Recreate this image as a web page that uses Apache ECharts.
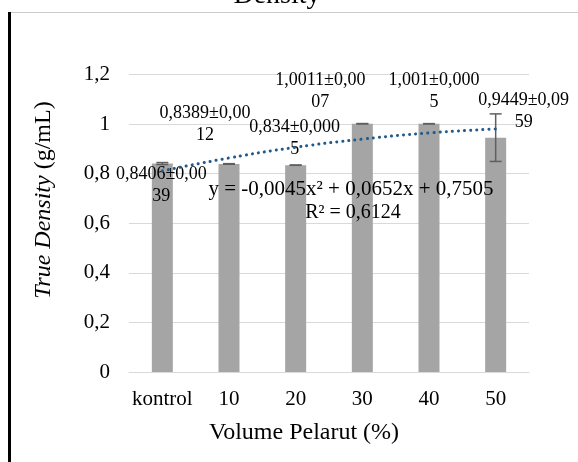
<!DOCTYPE html>
<html>
<head>
<meta charset="utf-8">
<script src="https://cdn.jsdelivr.net/npm/echarts@6/dist/echarts.min.js"></script>
<style>
  html, body { margin: 0; padding: 0; background: #fff; }
  #chart { width: 578px; height: 462px; }
</style>
</head>
<body>
<div id="chart"></div>
<script>
const categories = ['kontrol', '10', '20', '30', '40', '50']
const density = [0.8406, 0.8389, 0.834, 1.0011, 1.001, 0.9449]
const stdev = [0.0039, 0.0012, 0.0005, 0.0007, 0.0005, 0.0959]
// trend values at each category
const trend = [0.811, 0.863, 0.906, 0.939, 0.964, 0.98]
const yTicks = [0, 0.2, 0.4, 0.6, 0.8, 1, 1.2]

// where excel dropped the value labels, relative to top of bar
const labelOffsets = [[-1, 44], [-24, -18], [-1, -5], [-42, -10], [5, -10], [28, -4]]

const font = 'Liberation Serif'
const comma = v => String(v).replace('.', ',')

function labelText (i) {
  let s = comma(density[i]) + '±' + comma(stdev[i])
  return s.slice(0, 11) + '\n' + s.slice(11)
}

let chart = echarts.init(document.getElementById('chart'))

let option = {
  animation: false,
  grid: { left: 129, right: 49, top: 74.4, bottom: 90 },
  xAxis: {
    type: 'category',
    data: categories,
    axisLine: { lineStyle: { color: '#d9d9d9', width: 1 } },
    axisTick: { show: false },
    axisLabel: { interval: 0, color: '#000', fontFamily: font, fontSize: 21, margin: 17 },
    name: 'Volume Pelarut (%)',
    nameLocation: 'middle',
    nameGap: 49,
    nameTextStyle: { color: '#000', fontFamily: font, fontSize: 24, padding: [0, 50, 0, 0] }
  },
  yAxis: {
    type: 'value',
    min: 0,
    max: 1.2,
    interval: 0.2,
    axisLine: { show: false },
    axisTick: { show: false },
    splitLine: { lineStyle: { color: '#d9d9d9', width: 1 } },
    axisLabel: {
      color: '#000', fontFamily: font, fontSize: 21, margin: 19,
      formatter: v => comma(yTicks.find(t => Math.abs(t - v) < 1e-9) ?? v)
    }
  },
  graphic: [
    { type: 'line', shape: { x1: 8, y1: 12.5, x2: 578, y2: 12.5 }, style: { stroke: '#cccccc', lineWidth: 1 } },
    { type: 'line', shape: { x1: 9.5, y1: 12, x2: 9.5, y2: 462 }, style: { stroke: '#000', lineWidth: 3 } },
    {
      type: 'text', x: 277, y: 10,
      style: { text: 'Density', font: '28px ' + font, fill: '#000', align: 'center', verticalAlign: 'bottom' }
    },
    {
      type: 'text', x: 44, y: 200, rotation: Math.PI / 2,
      style: {
        text: '{i|True Density} (g/mL)',
        align: 'center', verticalAlign: 'middle',
        font: '24px ' + font, fill: '#000',
        rich: { i: { fontStyle: 'italic', fontFamily: font, fontSize: 24, fill: '#000' } }
      }
    },
    {
      type: 'text', x: 351, y: 189, z: 100,
      style: { text: 'y = -0,0045x² + 0,0652x + 0,7505', font: '21px ' + font, fill: '#000', align: 'center', verticalAlign: 'middle' }
    },
    {
      type: 'text', x: 353, y: 213, z: 100,
      style: { text: 'R² = 0,6124', font: '20px ' + font, fill: '#000', align: 'center', verticalAlign: 'middle' }
    }
  ],
  series: [
    {
      type: 'bar',
      barWidth: 21,
      itemStyle: { color: '#a5a5a5' },
      data: density.map((v, i) => ({
        value: v,
        label: {
          show: true,
          position: 'top',
          distance: 0,
          offset: labelOffsets[i],
          formatter: labelText(i),
          color: '#000',
          fontFamily: font,
          fontSize: 18,
          lineHeight: 22
        }
      })),
      z: 2
    },
    {
      type: 'custom',
      data: density.map((v, i) => [i, v - stdev[i], v + stdev[i]]),
      renderItem (params, api) {
        let lo = api.coord([api.value(0), api.value(1)])
        let hi = api.coord([api.value(0), api.value(2)])
        let w = 6
        let st = { stroke: '#5f5f5f', lineWidth: 1.5 }
        return {
          type: 'group',
          children: [
            { type: 'line', shape: { x1: lo[0], y1: lo[1], x2: hi[0], y2: hi[1] }, style: st },
            { type: 'line', shape: { x1: lo[0] - w, y1: lo[1], x2: lo[0] + w, y2: lo[1] }, style: st },
            { type: 'line', shape: { x1: hi[0] - w, y1: hi[1], x2: hi[0] + w, y2: hi[1] }, style: st }
          ]
        }
      },
      z: 3
    },
    {
      type: 'line',
      data: trend,
      smooth: true,
      symbol: 'none',
      lineStyle: { color: '#215a8c', width: 3, type: [0.1, 6], cap: 'round' },
      z: 4
    }
  ]
}

chart.setOption(option)
</script>
</body>
</html>
